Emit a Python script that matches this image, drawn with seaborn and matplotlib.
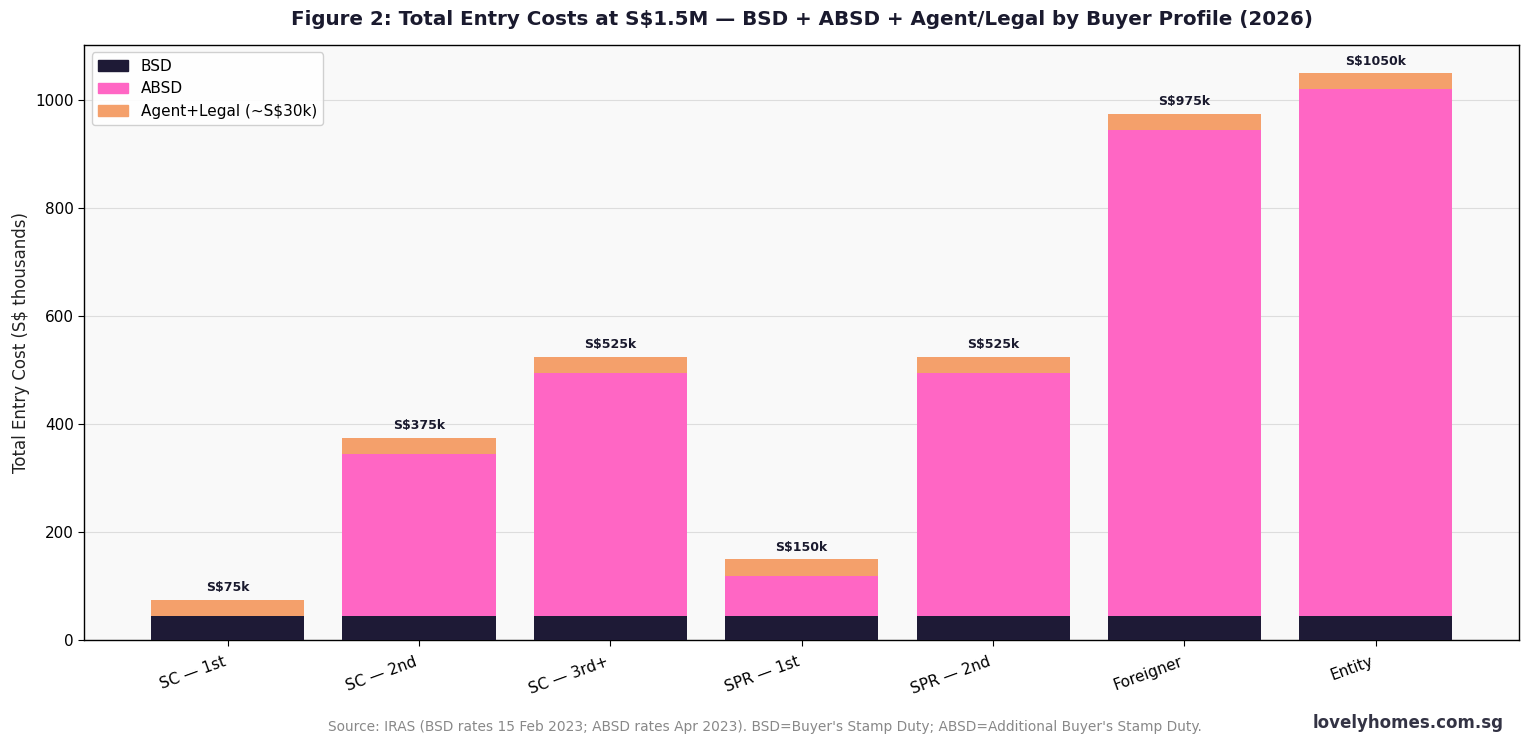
import numpy as np
import pandas as pd
import matplotlib
matplotlib.use("Agg")
import matplotlib.pyplot as plt
import seaborn as sns
from matplotlib.patches import Patch

profiles = ["SC — 1st", "SC — 2nd", "SC — 3rd+", "SPR — 1st", "SPR — 2nd", "Foreigner", "Entity"]
bsd = [44.6, 44.6, 44.6, 44.6, 44.6, 44.6, 44.6]
absd = [0, 300, 450, 75, 450, 900, 975]
agent_legal = [30, 30, 30, 30, 30, 30, 30]

c_bsd = "#1e1a36"
c_absd = "#ff66c4"
c_agent = "#f4a06b"
navy = "#1a1a2e"

df = pd.DataFrame({"profile": profiles, "bsd": bsd, "absd": absd, "agent": agent_legal})
df["lvl2"] = df["bsd"] + df["absd"]
df["total"] = df["lvl2"] + df["agent"]

sns.set_style("white")
plt.rcParams["font.family"] = ["DejaVu Sans"]

fig, ax = plt.subplots(figsize=(15.3, 7.47), dpi=100)
ax.set_facecolor("#f9f9f9")

# stacked look: draw cumulative layers on top of each other
for col, c in [("total", c_agent), ("lvl2", c_absd), ("bsd", c_bsd)]:
    sns.barplot(ax=ax, data=df, x="profile", y=col, color=c, saturation=1, width=0.8,
                linewidth=0, edgecolor="none", zorder=3)

for i, t in enumerate(df["total"]):
    ax.text(i, t + 10, f"S${t:.0f}k", ha="center", va="bottom", fontsize=9, fontweight="bold", color=navy)

ax.set_ylim(0, df["total"].max() * 1.05)
ax.set_xlim(-0.75, len(profiles) - 0.25)
ax.yaxis.grid(True, color="#dddddd", linewidth=0.8, zorder=0)
ax.set_axisbelow(True)
for s in ax.spines.values():
    s.set_visible(True)
    s.set_color("black")
    s.set_linewidth(1)

ax.set_xlabel("")
ax.set_ylabel("Total Entry Cost (S$ thousands)", fontsize=12, color="#222222")
ax.tick_params(axis="both", labelsize=11, length=4, bottom=True, left=True, colors="black")
ax.tick_params(axis="x", pad=6)
ax.set_xticks(range(len(profiles)))
ax.set_xticklabels(profiles, rotation=20, ha="right")

handles = [Patch(color=c_bsd, label="BSD"), Patch(color=c_absd, label="ABSD"),
           Patch(color=c_agent, label="Agent+Legal (~S$30k)")]
leg = ax.legend(handles=handles, loc="upper left", fontsize=11, frameon=True, framealpha=0.9)
for t in leg.get_texts():
    t.set_color("black")

fig.subplots_adjust(left=0.055, right=0.993, top=0.94, bottom=0.143)

ax.set_title("Figure 2: Total Entry Costs at S$1.5M — BSD + ABSD + Agent/Legal by Buyer Profile (2026)",
             fontsize=14.3, fontweight="bold", color=navy, pad=14)
fig.text(0.5, 0.021, "Source: IRAS (BSD rates 15 Feb 2023; ABSD rates Apr 2023). BSD=Buyer's Stamp Duty; ABSD=Additional Buyer's Stamp Duty.",
         ha="center", fontsize=9.9, color="#888888")
fig.text(0.983, 0.025, "lovelyhomes.com.sg", ha="right", fontsize=12, fontweight="bold", color="#333344")

fig.savefig("out.png", dpi=100)
